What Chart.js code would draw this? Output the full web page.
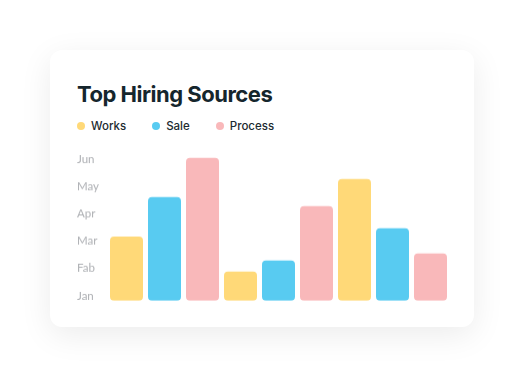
<!DOCTYPE html>
<html lang="en">
<head>
    <meta charset="UTF-8">
    <title>Top Hiring Sources</title>
    <script src="https://cdn.jsdelivr.net/npm/chart.js"></script>
    <style>
        html, body {
            margin: 0;
            padding: 0;
            background: #fff;
            width: 524px;
            height: 377px;
            overflow: hidden;
        }
        .card {
            position: absolute;
            left: 50px;
            top: 50px;
            width: 424px;
            height: 277px;
            background: #fff;
            border-radius: 12px;
            box-shadow: 0 8px 32px rgba(0, 0, 0, 0.08);
        }
        h1 {
            position: absolute;
            left: 27px;
            top: 31px;
            margin: 0;
            font-family: Inter, sans-serif;
            font-weight: 700;
            font-size: 22px;
            letter-spacing: -0.5px;
            color: #15262d;
        }
        #legend {
            position: absolute;
            left: 27px;
            top: 69px;
            display: flex;
            font-family: Inter, sans-serif;
            font-weight: 500;
            font-size: 11.5px;
            color: #1c2a30;
        }
        #legend span {
            display: flex;
            align-items: center;
            margin-right: 26px;
        }
        #legend i {
            display: inline-block;
            width: 8px;
            height: 8px;
            border-radius: 50%;
            margin-right: 6px;
        }
        .chart-box {
            position: absolute;
            left: 27px;
            top: 97.2px;
            width: 375px;
            height: 162.8px;
        }
    </style>
</head>
<body>

<div class="card">
    <h1>Top Hiring Sources</h1>
    <div id="legend"></div>
    <div class="chart-box"><canvas id="grafico"></canvas></div>
</div>

<script>
    // datos
    const categorias = ['Grupo 1', 'Grupo 2', 'Grupo 3'];
    const mesesEje = ['Jan', 'Fab', 'Mar', 'Apr', 'May', 'Jun'];
    const series = ['Works', 'Sale', 'Process'];
    const works = [2.35, 1.07, 4.45];
    const sale = [3.79, 1.47, 2.65];
    const process = [5.22, 3.46, 1.73];
    const colores = ['#FFD978', '#58CBF1', '#F9B8BA'];

    const valores = [works, sale, process];

    // leyenda en html
    const legend = document.getElementById('legend');
    series.forEach((nombre, i) => {
        legend.innerHTML += `<span><i style="background:${colores[i]}"></i>${nombre}</span>`;
    });

    const ctx = document.getElementById('grafico').getContext('2d');
    new Chart(ctx, {
        type: 'bar',
        data: {
            labels: categorias,
            datasets: series.map((nombre, i) => ({
                label: nombre,
                data: valores[i],
                backgroundColor: colores[i],
                borderRadius: 4,
                borderSkipped: false,
                categoryPercentage: 1,
                barPercentage: 0.868
            }))
        },
        options: {
            responsive: true,
            maintainAspectRatio: false,
            animation: false,
            layout: {
                padding: { top: 10, right: 2.5, bottom: 10, left: 0 }
            },
            plugins: {
                legend: { display: false },
                tooltip: { enabled: false }
            },
            scales: {
                x: { display: false },
                y: {
                    min: 0,
                    max: 5.25,
                    grid: { display: false },
                    border: { display: false },
                    afterFit: (scale) => { scale.width = 30.5; },
                    // solo los meses, de 0 a 5
                    afterBuildTicks: (scale) => {
                        scale.ticks = mesesEje.map((m, i) => ({ value: i }));
                    },
                    ticks: {
                        padding: 0,
                        crossAlign: 'far',
                        labelOffset: -5,
                        autoSkip: false,
                        color: '#aeb0b4',
                        font: { family: 'Lato, sans-serif', size: 11.5 },
                        callback: (v) => mesesEje[v]
                    }
                }
            }
        }
    });
</script>

</body>
</html>
